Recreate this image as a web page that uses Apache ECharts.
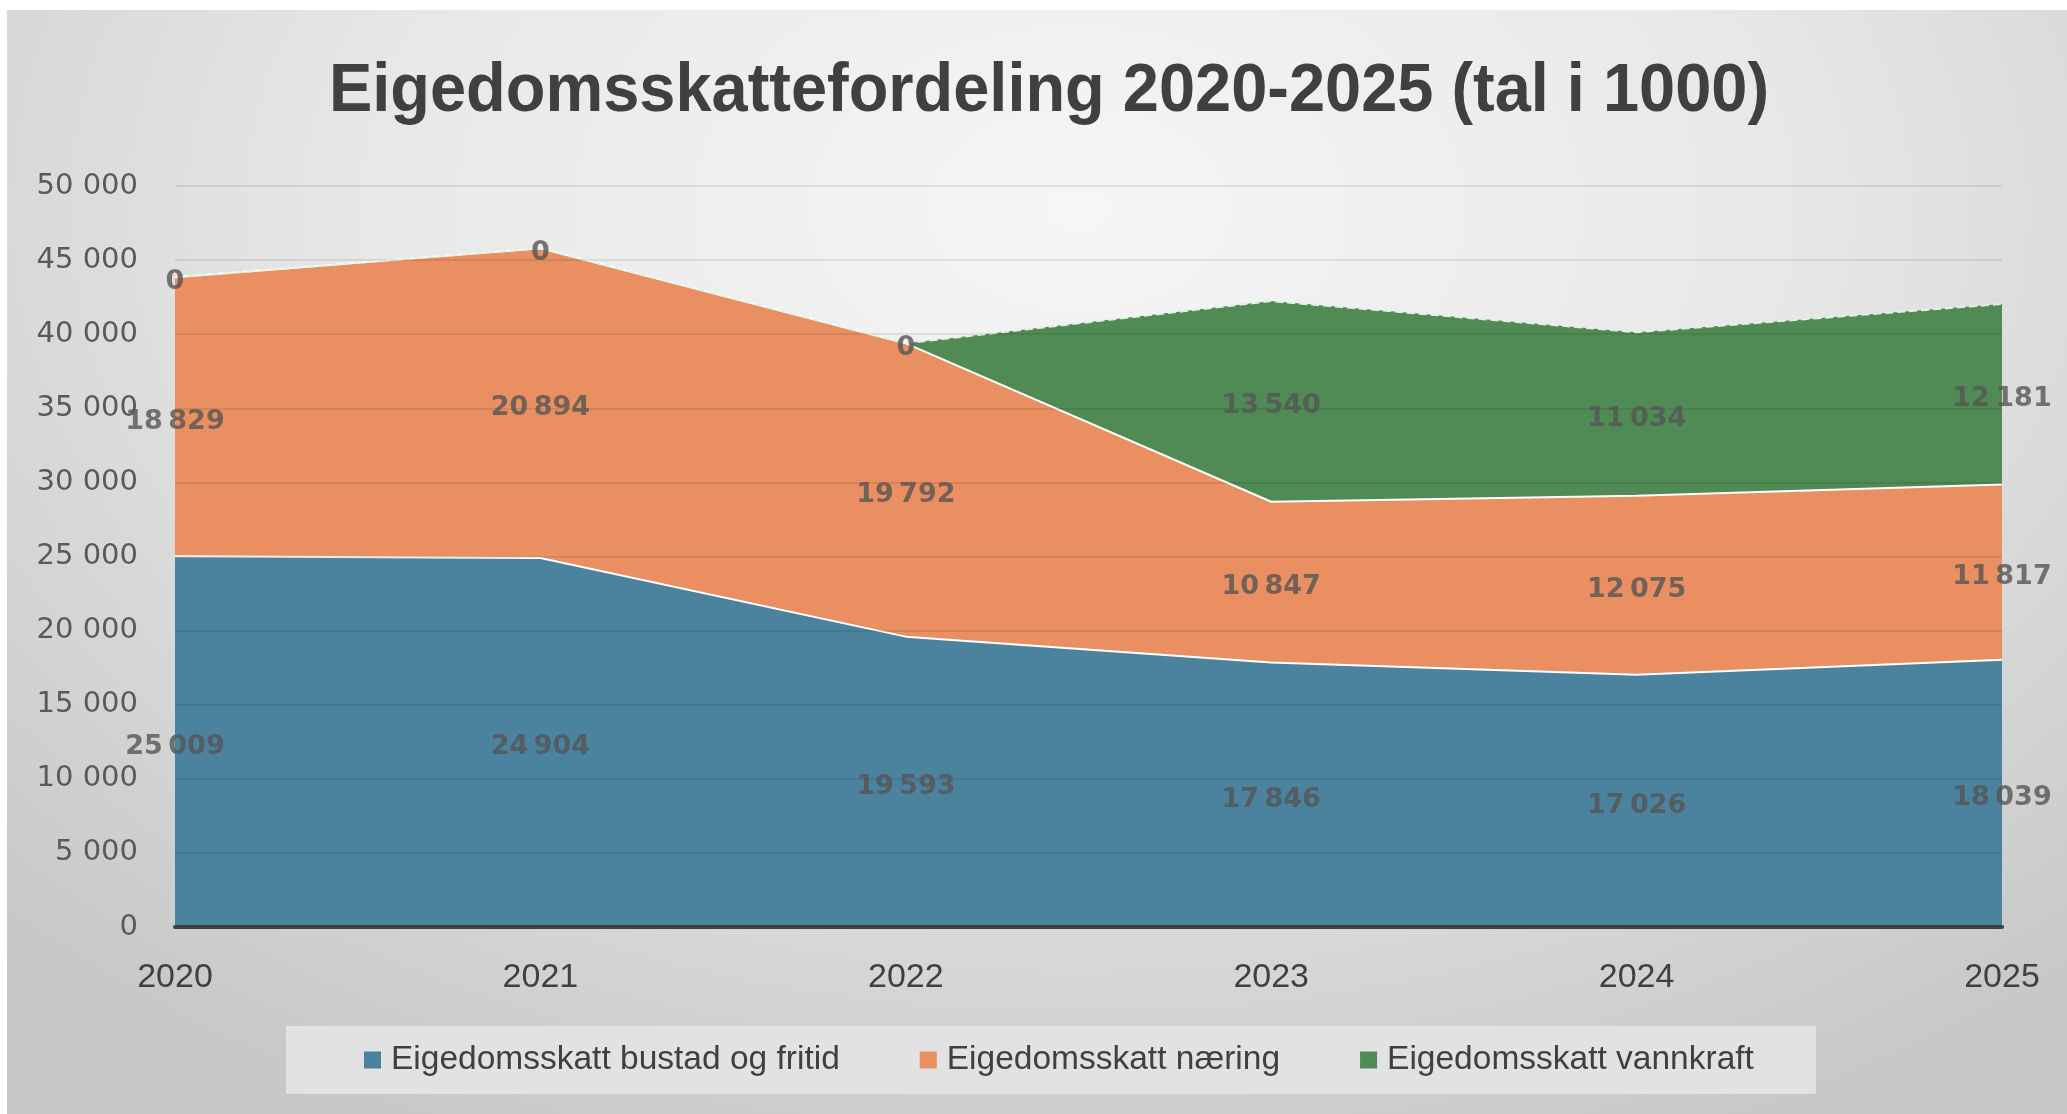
<!DOCTYPE html>
<html>
<head>
<meta charset="utf-8">
<script src="https://cdn.jsdelivr.net/npm/echarts@6/dist/echarts.min.js"></script>
<style>
  html, body { margin: 0; padding: 0; background: #fff; }
  #chart {
    position: absolute; left: 7px; top: 10px; width: 2060px; height: 1104px;
    background: radial-gradient(ellipse 75% 95% at 52% 18%, #f6f6f6 0%, #e8e8e8 45%, #d2d2d2 80%, #c6c6c6 100%);
  }
</style>
</head>
<body>
<div id="chart"></div>
<script>
const years = ['2020', '2021', '2022', '2023', '2024', '2025']
const bustad = [25009, 24904, 19593, 17846, 17026, 18039]
const naering = [18829, 20894, 19792, 10847, 12075, 11817]
const vannkraft = [0, 0, 0, 13540, 11034, 12181]
const seriesNames = ['Eigedomsskatt bustad og fritid', 'Eigedomsskatt næring', 'Eigedomsskatt vannkraft']
const colors = ['#4b829e', '#e98f61', '#508a54']

const fmt = (v) => String(v).replace(/\B(?=(\d{3})+(?!\d))/g, ' ')
const fmtThin = (v) => String(v).replace(/\B(?=(\d{3})+(?!\d))/g, '\u2009')

// midpoints of each stacked band, for the data labels
const layers = [bustad, naering, vannkraft]
const labelData = []
years.forEach((y, i) => {
  let base = 0
  layers.forEach((arr) => {
    labelData.push({ value: [y, base + arr[i] / 2], raw: arr[i] })
    base += arr[i]
  })
})

const chart = echarts.init(document.getElementById('chart'))
chart.setOption({
  backgroundColor: 'transparent',
  animation: false,
  graphic: [{
    type: 'text',
    x: 1042,
    y: 82,
    scaleX: 0.955,
    style: {
      text: 'Eigedomsskattefordeling 2020-2025 (tal i 1000)',
      font: 'bold 68px "Liberation Sans"',
      fill: '#404040',
      textAlign: 'center',
      textVerticalAlign: 'middle'
    }
  }],
  legend: {
    bottom: 20,
    left: 279,
    padding: [17, 62, 17, 78],
    backgroundColor: '#e2e2e2',
    itemGap: 80,
    itemWidth: 17,
    itemHeight: 17,
    icon: 'rect',
    textStyle: { fontFamily: 'Liberation Sans', fontSize: 33.5, color: '#404040', padding: [0, 0, 0, 5] },
    data: seriesNames
  },
  grid: { left: 168, right: 65, top: 176, bottom: 187 },
  xAxis: {
    type: 'category',
    boundaryGap: false,
    data: years,
    z: 5,
    axisLine: { lineStyle: { color: '#404040', width: 4 } },
    axisTick: { show: false },
    axisLabel: { fontFamily: 'Liberation Sans', fontSize: 34, color: '#404040', margin: 34 }
  },
  yAxis: {
    type: 'value',
    min: 0,
    max: 50000,
    interval: 5000,
    z: 4,
    axisLine: { show: false },
    axisTick: { show: false },
    axisLabel: { fontFamily: 'DejaVu Sans', fontSize: 29, color: '#595959', margin: 37, formatter: fmt },
    splitLine: { lineStyle: { color: 'rgba(0,0,0,0.08)', width: 2 } }
  },
  series: [
    ...layers.map((arr, k) => ({
      name: seriesNames[k],
      type: 'line',
      stack: 'total',
      data: arr,
      symbol: 'none',
      itemStyle: { color: colors[k] },
      lineStyle: k === 2
        ? { color: '#e4f0e4', width: 2, type: 'dashed' }
        : { color: '#ffffff', width: 2 },
      areaStyle: { color: colors[k], opacity: 1 }
    })),
    {
      type: 'scatter',
      data: labelData,
      symbolSize: 0,
      silent: true,
      z: 10,
      label: {
        show: true,
        position: 'inside',
        offset: [0, 5],
        fontFamily: 'DejaVu Sans',
        fontWeight: 'bold',
        fontSize: 27,
        color: '#555555',
        formatter: (p) => fmtThin(p.data.raw)
      }
    }
  ]
})
</script>
</body>
</html>
